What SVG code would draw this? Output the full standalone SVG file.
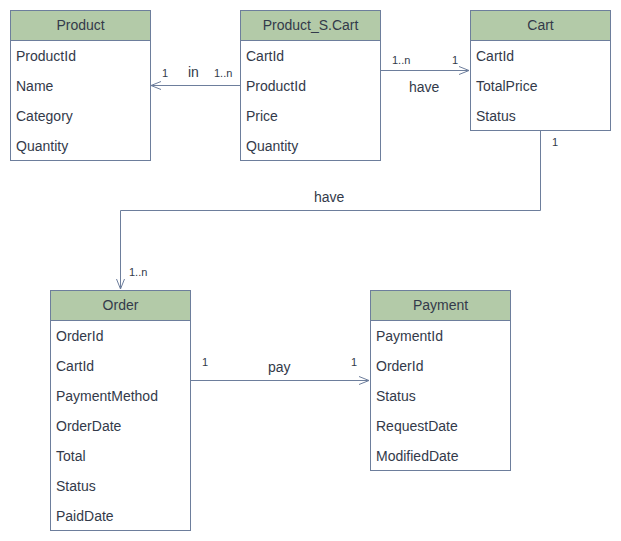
<svg xmlns="http://www.w3.org/2000/svg" width="621" height="541" viewBox="0 0 621 541">
<style>
.box{fill:#ffffff;stroke:#6d7e9c;stroke-width:1}
.hdr{fill:#b3caa8;stroke:#6d7e9c;stroke-width:1}
.t{font-family:"Liberation Sans",Arial,sans-serif;font-size:14px;fill:#333a4a}
.h{font-family:"Liberation Sans",Arial,sans-serif;font-size:14px;fill:#333a4a;text-anchor:middle}
.s{font-family:"Liberation Sans",Arial,sans-serif;font-size:11px;fill:#333a4a}
.c{fill:none;stroke:#6d7e9c;stroke-width:1}
</style>
<defs>
<marker id="arr" viewBox="0 0 10 10" refX="10" refY="5" markerWidth="10" markerHeight="10" markerUnits="userSpaceOnUse" orient="auto">
<path d="M0,1 L10,5 L0,9" fill="none" stroke="#6d7e9c" stroke-width="1"/>
</marker>
</defs>
<rect width="621" height="541" fill="#ffffff"/>
<g id="connectors">
<path class="c" d="M240,85.5 L151,85.5" marker-end="url(#arr)"/>
<path class="c" d="M380,70.5 L469,70.5" marker-end="url(#arr)"/>
<path class="c" d="M540.5,130 L540.5,210.5 L120.5,210.5 L120.5,289" marker-end="url(#arr)"/>
<path class="c" d="M190,380.5 L369,380.5" marker-end="url(#arr)"/>
<text class="s" x="162" y="77">1</text>
<text class="t" x="188" y="77">in</text>
<text class="s" x="214" y="77">1..n</text>
<text class="s" x="392" y="64">1..n</text>
<text class="s" x="452" y="64">1</text>
<text class="t" x="409" y="92">have</text>
<text class="s" x="552" y="146">1</text>
<text class="t" x="314" y="202">have</text>
<text class="s" x="129" y="276">1..n</text>
<text class="s" x="202" y="366">1</text>
<text class="t" x="268" y="372">pay</text>
<text class="s" x="351" y="366">1</text>
</g>
<g id="product">
<rect class="box" x="10.5" y="10.5" width="140" height="150"/>
<rect class="hdr" x="10.5" y="10.5" width="140" height="30"/>
<text class="h" x="80.5" y="30">Product</text>
<text class="t" x="16" y="61">ProductId</text>
<text class="t" x="16" y="91">Name</text>
<text class="t" x="16" y="121">Category</text>
<text class="t" x="16" y="151">Quantity</text>
</g>
<g id="product_s_cart">
<rect class="box" x="240.5" y="10.5" width="140" height="150"/>
<rect class="hdr" x="240.5" y="10.5" width="140" height="30"/>
<text class="h" x="310.5" y="30">Product_S.Cart</text>
<text class="t" x="246" y="61">CartId</text>
<text class="t" x="246" y="91">ProductId</text>
<text class="t" x="246" y="121">Price</text>
<text class="t" x="246" y="151">Quantity</text>
</g>
<g id="cart">
<rect class="box" x="470.5" y="10.5" width="140" height="120"/>
<rect class="hdr" x="470.5" y="10.5" width="140" height="30"/>
<text class="h" x="540.5" y="30">Cart</text>
<text class="t" x="476" y="61">CartId</text>
<text class="t" x="476" y="91">TotalPrice</text>
<text class="t" x="476" y="121">Status</text>
</g>
<g id="order">
<rect class="box" x="50.5" y="290.5" width="140" height="240"/>
<rect class="hdr" x="50.5" y="290.5" width="140" height="30"/>
<text class="h" x="120.5" y="310">Order</text>
<text class="t" x="56" y="341">OrderId</text>
<text class="t" x="56" y="371">CartId</text>
<text class="t" x="56" y="401">PaymentMethod</text>
<text class="t" x="56" y="431">OrderDate</text>
<text class="t" x="56" y="461">Total</text>
<text class="t" x="56" y="491">Status</text>
<text class="t" x="56" y="521">PaidDate</text>
</g>
<g id="payment">
<rect class="box" x="370.5" y="290.5" width="140" height="180"/>
<rect class="hdr" x="370.5" y="290.5" width="140" height="30"/>
<text class="h" x="440.5" y="310">Payment</text>
<text class="t" x="376" y="341">PaymentId</text>
<text class="t" x="376" y="371">OrderId</text>
<text class="t" x="376" y="401">Status</text>
<text class="t" x="376" y="431">RequestDate</text>
<text class="t" x="376" y="461">ModifiedDate</text>
</g>
</svg>
